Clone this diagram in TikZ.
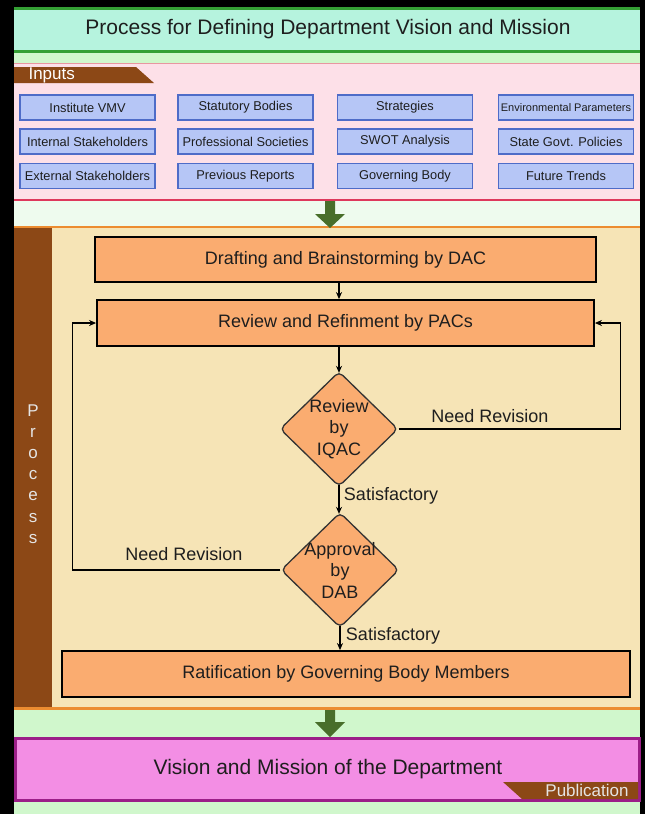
\documentclass[tikz,border=0pt]{standalone}
\usepackage{fontspec}
\setmainfont{Liberation Sans}
\usetikzlibrary{shapes.geometric,arrows.meta}
\definecolor{titlebg}{RGB}{182,243,222}
\definecolor{titleline}{RGB}{52,160,52}
\definecolor{palegreen}{RGB}{208,247,204}
\definecolor{inputbg}{RGB}{253,224,232}
\definecolor{inputtop}{RGB}{232,150,160}
\definecolor{inputline}{RGB}{222,56,92}
\definecolor{boxfill}{RGB}{182,198,246}
\definecolor{boxline}{RGB}{78,108,200}
\definecolor{tabbrown}{RGB}{140,72,22}
\definecolor{procbg}{RGB}{246,228,182}
\definecolor{procline}{RGB}{236,140,48}
\definecolor{stepfill}{RGB}{250,172,112}
\definecolor{arrowgreen}{RGB}{72,110,42}
\definecolor{gapgreen}{RGB}{238,251,238}
\definecolor{outfill}{RGB}{243,142,228}
\definecolor{outline}{RGB}{156,30,136}
\definecolor{textdark}{RGB}{30,30,30}
\begin{document}
\begin{tikzpicture}[x=1pt,y=-1pt,
  inbox/.style={draw=boxline,line width=1.2pt,fill=boxfill,minimum width=135pt,minimum height=25pt,inner sep=0pt,text=textdark,font=\fontsize{12.8}{15}\selectfont},
  stepbox/.style={draw=black,line width=1.8pt,fill=stepfill,inner sep=0pt,text=textdark,font=\fontsize{18}{21}\selectfont},
  decision/.style={diamond,draw=black!80,line width=1.3pt,fill=stepfill,rounded corners=5pt,minimum width=118pt,minimum height=115pt,inner sep=0pt},
  lbl/.style={text=textdark,font=\fontsize{18}{21.5}\selectfont},
  flow/.style={-{Stealth[length=7pt,width=6pt]},line width=1.3pt}]
\fill[black] (0,0) rectangle (645,814);
% title
\fill[titlebg] (14,9) rectangle (640,51);
\draw[titleline,line width=3pt] (14,8.5) -- (640,8.5);
\draw[titleline,line width=3pt] (14,51.5) -- (640,51.5);
\node[text=textdark,font=\fontsize{21}{25}\selectfont] (title) at (328,29) {Process for Defining Department Vision and Mission};
\fill[palegreen] (14,53) rectangle (640,63);
% inputs
\fill[inputbg] (14,63) rectangle (640,199);
\draw[inputtop,line width=1pt] (14,63.5) -- (640,63.5);
\draw[inputline,line width=2.5pt] (14,200) -- (640,200);
\fill[tabbrown] (14,67) -- (136,67) -- (154,83) -- (14,83) -- cycle;
\node[anchor=west,text=white,font=\fontsize{17}{20}\selectfont] (inputs) at (25,75) {Inputs};
\node[inbox] (vmv) at (87.5,107.5) {Institute VMV};
\node[inbox] (statutory) at (245.5,107.5) {Statutory Bodies};
\node[inbox] (strategies) at (405,107.5) {Strategies};
\node[inbox,font=\fontsize{11}{13}\selectfont] (environ) at (566,107.5) {Environmental Parameters};
\node[inbox] (internal) at (87.5,141.5) {Internal Stakeholders};
\node[inbox] (societies) at (245.5,141.5) {Professional Societies};
\node[inbox] (swot) at (405,141.5) {SWOT Analysis};
\node[inbox] (policies) at (566,141.5) {State Govt. Policies};
\node[inbox] (external) at (87.5,176) {External Stakeholders};
\node[inbox] (reports) at (245.5,176) {Previous Reports};
\node[inbox] (governing) at (405,176) {Governing Body};
\node[inbox] (trends) at (566,176) {Future Trends};
\fill[gapgreen] (14,201.2) rectangle (640,226);
% process
\fill[procbg] (14,227) rectangle (640,708);
\draw[procline,line width=2pt] (14,227) -- (640,227);
\draw[procline,line width=3pt] (14,708.5) -- (640,708.5);
\fill[tabbrown] (14,228) rectangle (52,707);
\node[text=white!90!black,align=center,font=\fontsize{17}{21.2}\selectfont] (proc) at (33,474) {P\\r\\o\\c\\e\\s\\s};
\fill[arrowgreen] (325,201) -- (335,201) -- (335,214) -- (345,214) -- (330,228) -- (315,214) -- (325,214) -- cycle;
\node[stepbox,minimum width=501pt,minimum height=45pt] (draft) at (345.5,259.5) {Drafting and Brainstorming by DAC};
\node[stepbox,minimum width=497pt,minimum height=46pt] (review) at (345.5,323) {Review and Refinment by PACs};
\node[decision,label={[lbl,align=center]center:Review\\by\\IQAC}] (iqac) at (339,429) {};
\node[decision,label={[lbl,align=center]center:Approval\\by\\DAB}] (dab) at (340,570) {};
\node[stepbox,minimum width=568pt,minimum height=46pt] (ratify) at (346,674) {Ratification by Governing Body Members};
\draw[flow] (draft.south -| iqac.north) -- (review.north -| iqac.north);
\draw[flow,shorten >=-2pt] (review.south -| iqac.north) -- (iqac.north);
\draw[flow,shorten <=-2pt,shorten >=-2pt] (iqac.south) -- (dab.north -| iqac.south) node[lbl,midway,anchor=west,xshift=1pt,yshift=4pt] (sat1) {Satisfactory};
\draw[flow,shorten <=-2pt] (dab.south) -- (ratify.north -| dab.south) node[lbl,midway,anchor=west,xshift=2pt,yshift=3pt] (sat2) {Satisfactory};
\draw[flow] (iqac.east) -- ++(222,0) |- (review.east);
\draw[flow] (dab.west) -- ++(-208,0) |- (review.west);
\node[lbl] (need1) at (490,416) {Need Revision};
\node[lbl] (need2) at (184,554) {Need Revision};
% output
\fill[palegreen] (14,710) rectangle (640,814);
\fill[arrowgreen] (325,710) -- (335,710) -- (335,722) -- (345,722) -- (330,737) -- (315,722) -- (325,722) -- cycle;
\draw[outline,fill=outfill,line width=3pt] (15.5,738.5) rectangle (639.5,800.5);
\fill[tabbrown] (503,782) -- (638,782) -- (638,799) -- (522,799) -- cycle;
\node[text=white!90!black,font=\fontsize{17}{20}\selectfont] (pub) at (587,790) {Publication};
\node[text=textdark,font=\fontsize{21}{25}\selectfont] (vm) at (328,769) {Vision and Mission of the Department};
\end{tikzpicture}
\end{document}
